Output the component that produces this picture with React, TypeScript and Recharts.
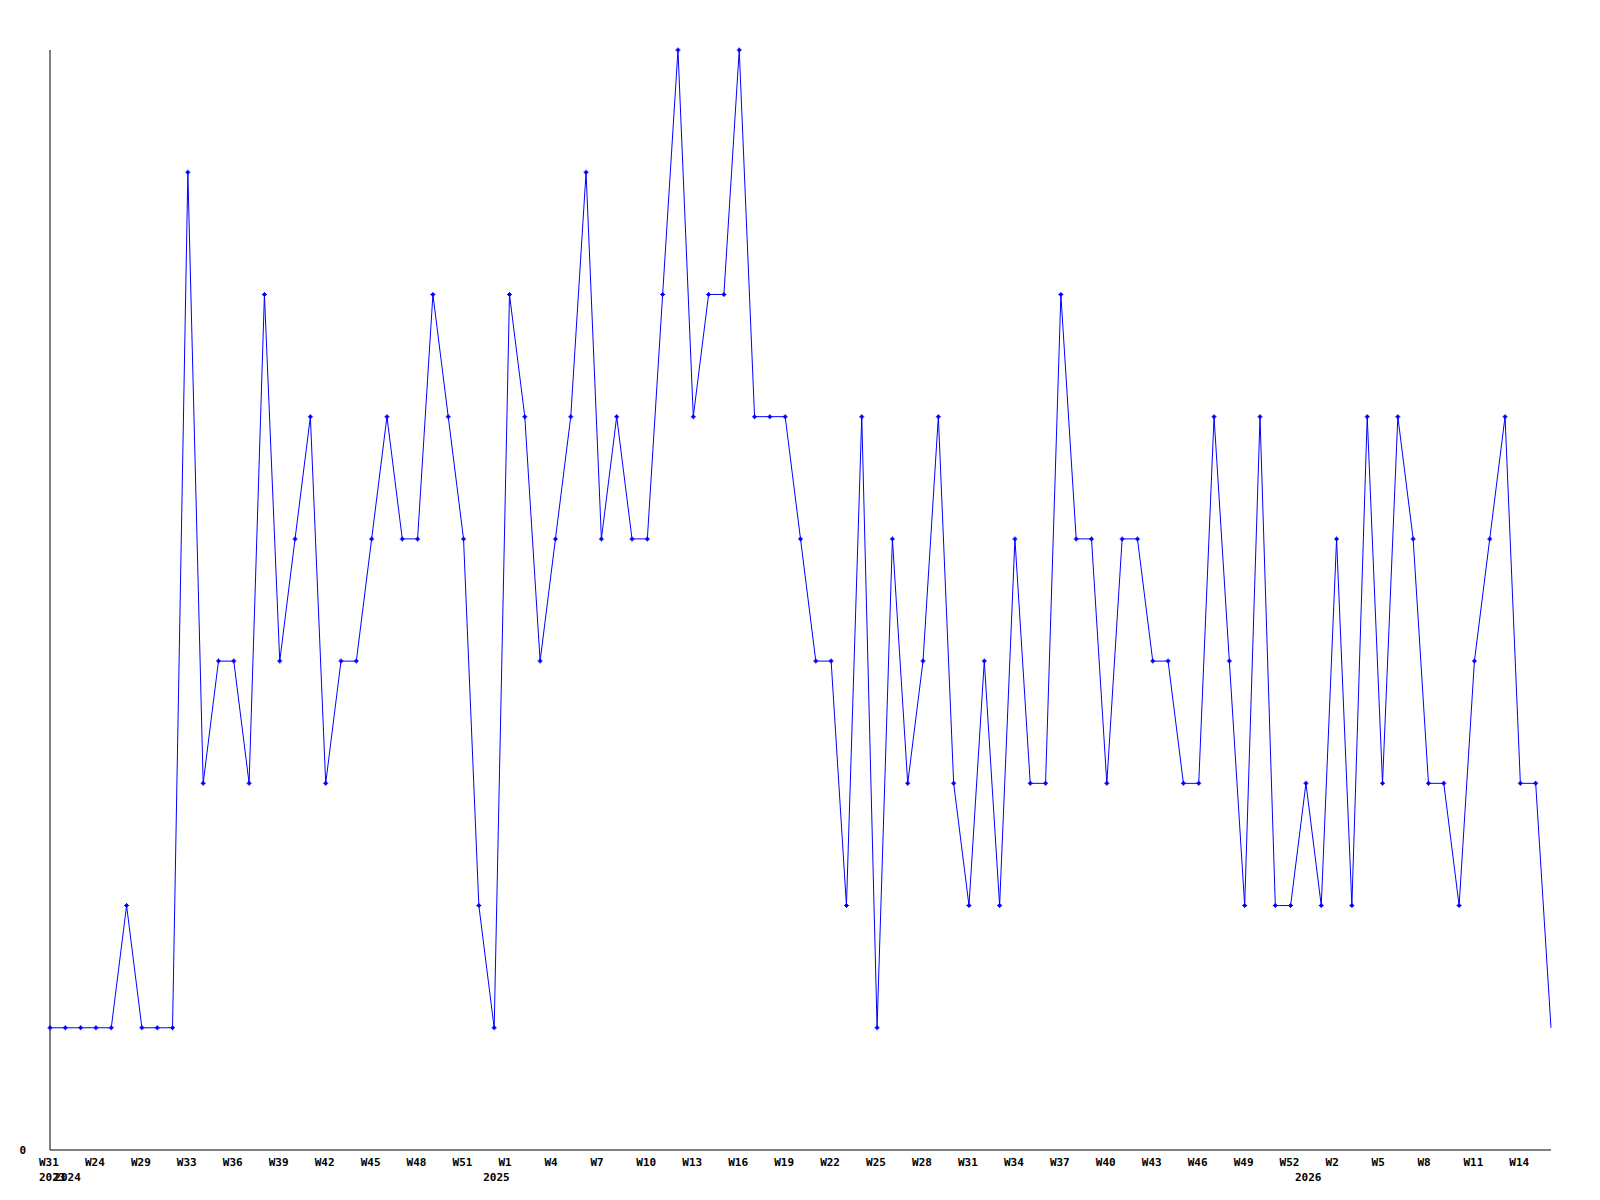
import React from 'react';
import { LineChart, Line, XAxis, YAxis } from 'recharts';

const weekLabels: string[] = [
  'W31', 'W14', 'W19', 'W24', 'W26', 'W27', 'W29', 'W31', 'W32',
  'W33', 'W34', 'W35', 'W36', 'W37', 'W38', 'W39', 'W40', 'W41', 'W42', 'W43', 'W44', 'W45', 'W46', 'W47', 'W48', 'W49', 'W50', 'W51', 'W52',
  'W0', 'W1', 'W2', 'W3', 'W4', 'W5', 'W6', 'W7', 'W8', 'W9', 'W10', 'W11', 'W12', 'W13', 'W14', 'W15', 'W16', 'W17', 'W18', 'W19', 'W20',
  'W21', 'W22', 'W23', 'W24', 'W25', 'W26', 'W27', 'W28', 'W29', 'W30', 'W31', 'W32', 'W33', 'W34', 'W35', 'W36', 'W37', 'W38', 'W39', 'W40',
  'W41', 'W42', 'W43', 'W44', 'W45', 'W46', 'W47', 'W48', 'W49', 'W50', 'W51', 'W52',
  'W0', 'W1', 'W2', 'W3', 'W4', 'W5', 'W6', 'W7', 'W8', 'W9', 'W10', 'W11', 'W12', 'W13', 'W14', 'W15', 'W16',
];

const yearLabels: string[] = [
  '2023',
  ...Array(28).fill('2024'),
  ...Array(53).fill('2025'),
  ...Array(17).fill('2026'),
];

const values: number[] = [
  1, 1, 1, 1, 1, 2, 1, 1, 1, 8,
  3, 4, 4, 3, 7, 4, 5, 6, 3, 4,
  4, 5, 6, 5, 5, 7, 6, 5, 2, 1,
  7, 6, 4, 5, 6, 8, 5, 6, 5, 5,
  7, 9, 6, 7, 7, 9, 6, 6, 6, 5,
  4, 4, 2, 6, 1, 5, 3, 4, 6, 3,
  2, 4, 2, 5, 3, 3, 7, 5, 5, 3,
  5, 5, 4, 4, 3, 3, 6, 4, 2, 6,
  2, 2, 3, 2, 5, 2, 6, 3, 6, 5,
  3, 3, 2, 4, 5, 6, 3, 3, 1,
];

const yTicks: number[] = [0];

const data = values.map((v, i) => ({ i, v, week: weekLabels[i], year: yearLabels[i] }));
const xTicks = data.map((d) => d.i);

const FONT = '"DejaVu Sans Mono", "Liberation Mono", monospace';

const XTick = (props: any) => {
  const { x, y, payload } = props;
  const i = payload.value as number;
  const showWeek = i % 3 === 0;
  const showYear = i === 0 || yearLabels[i] !== yearLabels[i - 1];
  return (
    <g>
      {showWeek && (
        <text x={x - 11} y={y + 16} textAnchor="start" fontFamily={FONT} fontSize={11} fontWeight="bold" fill="#000">
          {weekLabels[i]}
        </text>
      )}
      {showYear && (
        <text x={x - 11} y={y + 31} textAnchor="start" fontFamily={FONT} fontSize={11} fontWeight="bold" fill="#000">
          {yearLabels[i]}
        </text>
      )}
    </g>
  );
};

const YTick = (props: any) => {
  const { y, payload } = props;
  return (
    <text x={26} y={y + 4} textAnchor="end" fontFamily={FONT} fontSize={11} fontWeight="bold" fill="#000">
      {payload.value}
    </text>
  );
};

const Dot = (props: any) => {
  const { cx, cy, index } = props;
  if (index === values.length - 1 || cx == null || cy == null) return <g key={index} />;
  const d = `M${cx - 2.5},${cy - 0.5}h5v1h-5z M${cx - 0.5},${cy - 2.5}h1v5h-1z M${cx - 1.5},${cy - 1.5}h3v3h-3z`;
  return <path key={index} d={d} fill="#0000ff" />;
};

export default function App() {
  return (
    <div style={{ position: 'absolute', left: 0, top: 0, width: 1600, height: 1200, background: '#fff' }}>
      <LineChart width={1600} height={1200} data={data} margin={{ top: 50, right: 49, bottom: 0, left: 0 }}>
        <XAxis
          dataKey="i"
          type="number"
          domain={[0, values.length - 1]}
          ticks={xTicks}
          interval={0}
          tickLine={false}
          tickSize={0}
          tickMargin={0}
          height={50}
          axisLine={{ stroke: '#000', strokeWidth: 1 }}
          tick={<XTick />}
          allowDecimals={false}
        />
        <YAxis
          type="number"
          domain={[0, 9]}
          ticks={yTicks}
          width={50}
          tickLine={false}
          tickSize={0}
          tickMargin={0}
          axisLine={{ stroke: '#000', strokeWidth: 1 }}
          tick={<YTick />}
        />
        <Line
          type="linear"
          dataKey="v"
          stroke="#0000ff"
          strokeWidth={1}
          dot={<Dot />}
          activeDot={false}
          isAnimationActive={false}
        />
      </LineChart>
    </div>
  );
}
